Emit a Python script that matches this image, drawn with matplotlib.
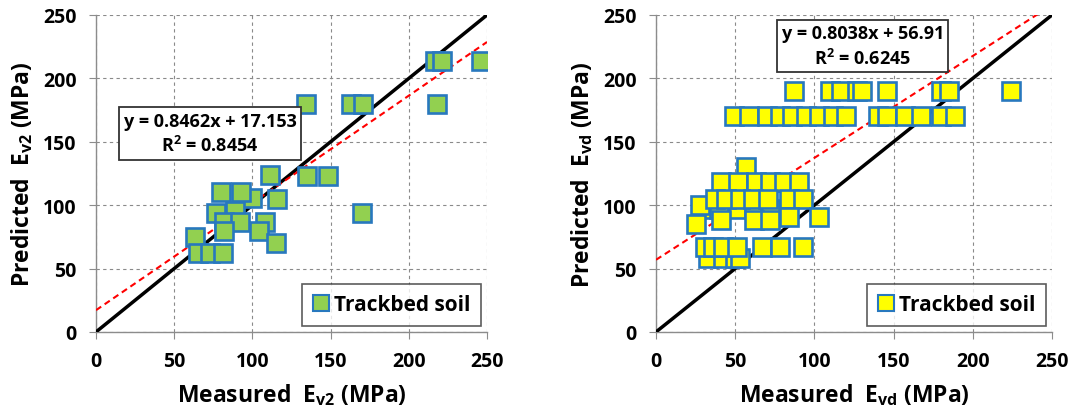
import numpy as np
import matplotlib
matplotlib.use("Agg")
import matplotlib.pyplot as plt
from matplotlib.lines import Line2D

plt.rcParams['font.family'] = ['Open Sans', 'DejaVu Sans']
plt.rcParams['font.weight'] = 'bold'
plt.rcParams['mathtext.fontset'] = 'custom'
plt.rcParams['mathtext.rm'] = 'Open Sans:bold'
plt.rcParams['mathtext.bf'] = 'Open Sans:bold'
plt.rcParams['mathtext.it'] = 'Open Sans:bold'

# Ev2 data (measured vs predicted)
meas_ev2 = [217, 221, 246, 218, 134, 163, 171, 111, 135, 148, 116, 100, 80, 93,
            77, 89, 108, 82, 92, 82, 104, 170, 63, 115, 65, 73, 81]
pred_ev2 = [214, 214, 214, 180, 180, 180, 180, 124, 123, 123, 105, 106, 110, 110,
            94, 95, 87, 87, 87, 80, 80, 94, 75, 70, 62, 62, 62]

# Evd data (measured vs predicted)
meas_evd = [87, 110, 117, 127, 130, 146, 180, 185, 224,
            49, 59, 70, 78, 86, 95, 103, 112, 120, 140, 146, 157, 167, 180, 189,
            57,
            41, 52, 63, 72, 81, 90,
            33, 40, 52, 62, 72, 28,
            37, 44, 53, 61, 71, 84, 93,
            25, 41, 62, 72, 84, 103,
            33, 42, 50, 53,
            31, 36, 42, 51, 67, 78, 93]
pred_evd = [190, 190, 190, 190, 190, 190, 190, 190, 190,
            170, 170, 170, 170, 170, 170, 170, 170, 170, 170, 170, 170, 170, 170, 170,
            130,
            118, 118, 118, 118, 118, 118,
            97, 97, 97, 97, 97, 100,
            105, 105, 105, 105, 105, 105, 105,
            85, 88, 88, 88, 91, 91,
            58, 58, 58, 58,
            67, 67, 67, 67, 67, 67, 67]

fit_ev2 = (0.8462, 17.153, 0.8454)
fit_evd = (0.8038, 56.91, 0.6245)
ticks = [0, 50, 100, 150, 200, 250]

edge_blue = '#2878BE'
grid_gray = '#8a8a8a'

fig = plt.figure(figsize=(10.73, 4.10), dpi=100)
ax1 = fig.add_axes([0.0895, 0.188, 0.3644, 0.773])
ax2 = fig.add_axes([0.6114, 0.188, 0.369, 0.773])


def draw_panel(ax, x, y, fit, face, sub, eq_text, eq_pos):
    xs = np.array([0, 250])
    ax.plot(xs, xs, color='black', lw=2.5, zorder=3)
    ax.plot(xs, fit[0] * xs + fit[1], color='red', lw=1.5, ls=(0, (3, 2)), zorder=3)
    ax.plot(x, y, ls='none', marker='s', ms=13, mfc=face, mec=edge_blue, mew=1.9, zorder=4)
    ax.set_xlim(0, 250)
    ax.set_ylim(0, 250)
    ax.set_xticks(ticks)
    ax.set_yticks(ticks)
    ax.grid(True, color=grid_gray, ls=(0, (3, 3)), lw=0.8)
    ax.set_axisbelow(True)
    for s in ['top', 'right']:
        ax.spines[s].set_visible(False)
    for s in ['left', 'bottom']:
        ax.spines[s].set_color('#8c8c8c')
        ax.spines[s].set_linewidth(1.0)
    ax.tick_params(direction='out', length=5, color='#8c8c8c', labelsize=14, pad=9)
    for lab in ax.get_xticklabels() + ax.get_yticklabels():
        lab.set_fontweight('bold')
    ax.set_xlabel(r'Measured  E$_{\mathbf{%s}}$ (MPa)' % sub, fontsize=16.5, fontweight='bold', labelpad=7)
    ax.set_ylabel(r'Predicted  E$_{\mathbf{%s}}$ (MPa)' % sub, fontsize=16.5, fontweight='bold', labelpad=6)
    ax.text(eq_pos[0], eq_pos[1], eq_text, ha='center', va='center', fontsize=13,
            fontweight='bold', linespacing=1.35, zorder=6,
            bbox=dict(boxstyle='square,pad=0.25', fc='white', ec='#333333', lw=1.3))
    handle = Line2D([], [], ls='none', marker='s', ms=11, mfc=face, mec=edge_blue, mew=1.5)
    leg = ax.legend([handle], ['Trackbed soil'], loc='lower right', fontsize=15,
                    frameon=True, fancybox=False, borderaxespad=0.3, handletextpad=0.15,
                    borderpad=0.5, handlelength=0.9)
    leg.get_frame().set_edgecolor('#333333')
    leg.get_frame().set_linewidth(1.2)
    leg.set_zorder(7)
    for t in leg.get_texts():
        t.set_fontweight('bold')


draw_panel(ax1, meas_ev2, pred_ev2, fit_ev2, '#92D050', 'v2',
           'y = %.4fx + %.3f\nR$^{2}$ = %.4f' % fit_ev2, (73, 156.5))
draw_panel(ax2, meas_evd, pred_evd, fit_evd, '#FFFF00', 'vd',
           'y = %.4fx + %.2f\nR$^{2}$ = %.4f' % fit_evd, (130.5, 225.5))

fig.savefig('out.png', dpi=100)
